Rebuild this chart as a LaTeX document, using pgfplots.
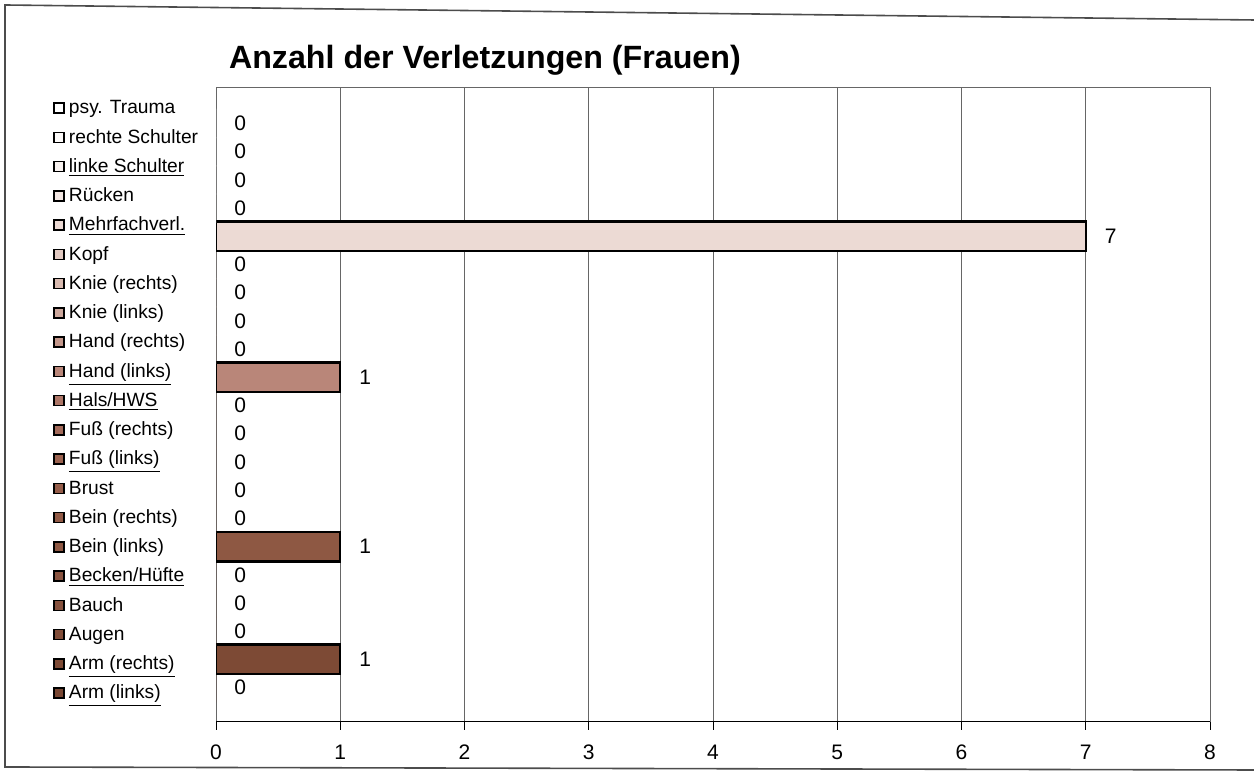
\documentclass[border=0pt]{standalone}
\usepackage{fontspec}
\setmainfont{Liberation Sans}
\usepackage{pgfplots}
\pgfplotsset{compat=1.18}

% gradient white -> dark brown (index 20 = top, 0 = bottom)
\definecolor{c20}{HTML}{FFFFFF}
\definecolor{c19}{HTML}{FCFAF9}
\definecolor{c18}{HTML}{F8F2F0}
\definecolor{c17}{HTML}{F2E6E2}
\definecolor{c16}{HTML}{ECDAD4}
\definecolor{c15}{HTML}{E2CAC2}
\definecolor{c14}{HTML}{D8BAB0}
\definecolor{c13}{HTML}{CDA89D}
\definecolor{c12}{HTML}{C3978B}
\definecolor{c11}{HTML}{B98679}
\definecolor{c10}{HTML}{AE7768}
\definecolor{c9}{HTML}{A46B5B}
\definecolor{c8}{HTML}{9C6350}
\definecolor{c7}{HTML}{955D4A}
\definecolor{c6}{HTML}{915A46}
\definecolor{c5}{HTML}{8E5843}
\definecolor{c4}{HTML}{8A5440}
\definecolor{c3}{HTML}{86513D}
\definecolor{c2}{HTML}{814D39}
\definecolor{c1}{HTML}{7D4A35}
\definecolor{c0}{HTML}{784632}

\begin{document}
\begin{tikzpicture}[x=1pt,y=1pt]
\useasboundingbox (0,0) rectangle (627,390);
\draw[line width=0.8pt, black!70] (627,380) -- (2.5,387.5) -- (2.5,6.5) -- (627,5);
\node[anchor=base west, font=\bfseries\fontsize{16.1}{19}\selectfont] at (111,355.5)
  {Anzahl der Verletzungen (Frauen)};
\begin{axis}[
  at={(108pt,29pt)}, anchor=south west,
  scale only axis, width=497pt, height=317pt,
  xmin=0, xmax=8, ymin=-1.22, ymax=21.26,
  xtick={0,...,8}, ytick=\empty, xtick pos=bottom,
  tick align=outside, major tick length=4pt,
  xtick style={black, line width=0.5pt},
  /pgf/number format/assume math mode=true,
  xticklabel style={font=\fontsize{10.5}{12}\selectfont, inner sep=0pt,
    text height=7.6pt, text depth=0pt, yshift=-7pt},
  xmajorgrids, grid style={black!60, line width=0.5pt},
  axis line style={black!60, line width=0.5pt},
  xbar, bar shift=0pt, bar width=1.05,
  nodes near coords,
  nodes near coords style={font=\fontsize{10.5}{12}\selectfont, anchor=west, inner sep=0pt, xshift=9pt},
  legend cell align=left, reverse legend,
  legend image code/.code={\draw[#1, draw=black, line width=0.8pt] (0.2pt,-2.6pt) rectangle (5.2pt,2.4pt);},
  legend style={at={(axis description cs:-0.164,0.9916)}, anchor=north west,
    draw=none, fill=none, inner sep=0pt, outer sep=0pt, row sep=0pt,
    font=\fontsize{9.6}{11}\selectfont,
    nodes={inner sep=0pt, text height=10.3pt, text depth=4.325pt},
    /tikz/every odd column/.append style={column sep=2.2pt}},
]
\addplot[draw=none, fill=c0] coordinates {(0,0)};
\addlegendentry{\underline{Arm (links)}}
\addplot[draw=black, line width=1.2pt, fill=c1] coordinates {(1,1)};
\addlegendentry{\underline{Arm (rechts)}}
\addplot[draw=none, fill=c2] coordinates {(0,2)};
\addlegendentry{Augen}
\addplot[draw=none, fill=c3] coordinates {(0,3)};
\addlegendentry{Bauch}
\addplot[draw=none, fill=c4] coordinates {(0,4)};
\addlegendentry{\underline{Becken/Hüfte}}
\addplot[draw=black, line width=1.2pt, fill=c5] coordinates {(1,5)};
\addlegendentry{Bein (links)}
\addplot[draw=none, fill=c6] coordinates {(0,6)};
\addlegendentry{Bein (rechts)}
\addplot[draw=none, fill=c7] coordinates {(0,7)};
\addlegendentry{Brust}
\addplot[draw=none, fill=c8] coordinates {(0,8)};
\addlegendentry{\underline{Fuß (links)}}
\addplot[draw=none, fill=c9] coordinates {(0,9)};
\addlegendentry{Fuß (rechts)}
\addplot[draw=none, fill=c10] coordinates {(0,10)};
\addlegendentry{\underline{Hals/HWS}}
\addplot[draw=black, line width=1.2pt, fill=c11] coordinates {(1,11)};
\addlegendentry{\underline{Hand (links)}}
\addplot[draw=none, fill=c12] coordinates {(0,12)};
\addlegendentry{Hand (rechts)}
\addplot[draw=none, fill=c13] coordinates {(0,13)};
\addlegendentry{Knie (links)}
\addplot[draw=none, fill=c14] coordinates {(0,14)};
\addlegendentry{Knie (rechts)}
\addplot[draw=none, fill=c15] coordinates {(0,15)};
\addlegendentry{Kopf}
\addplot[draw=black, line width=1.2pt, fill=c16] coordinates {(7,16)};
\addlegendentry{\underline{Mehrfachverl.}}
\addplot[draw=none, fill=c17] coordinates {(0,17)};
\addlegendentry{Rücken}
\addplot[draw=none, fill=c18] coordinates {(0,18)};
\addlegendentry{\underline{linke Schulter}}
\addplot[draw=none, fill=c19] coordinates {(0,19)};
\addlegendentry{rechte Schulter}
\addplot[draw=none, fill=c20] coordinates {(0,20)};
\addlegendentry{psy. Trauma}
\draw[black, line width=1pt] (rel axis cs:0,0) -- (rel axis cs:1,0);
\end{axis}
\end{tikzpicture}
\end{document}
